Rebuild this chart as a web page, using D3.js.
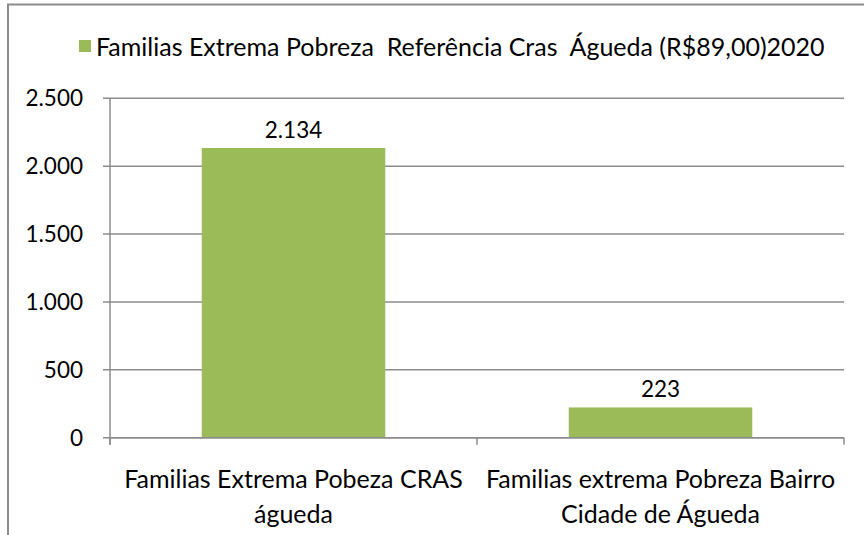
<!DOCTYPE html>
<html>
<head>
<meta charset="utf-8">
<style>
    body { margin: 0; background: #fff; }
    svg text { font-family: Lato, 'Open Sans', sans-serif; fill: #000; white-space: pre; }
</style>
</head>
<body>
<div id="chart"></div>
<script src="https://cdn.jsdelivr.net/npm/d3@7"></script>
<script>
    // data
    var categories = ['Familias Extrema Pobeza CRAS|águeda', 'Familias extrema Pobreza Bairro|Cidade de Águeda'];
    var values = [2134, 223];
    var series_name = 'Familias Extrema Pobreza  Referência Cras  Águeda (R$89,00)2020';
    var y_ticks = [0, 500, 1000, 1500, 2000, 2500];

    var width = 864,
        height = 535;

    var plot = {left: 110, right: 844, top: 98.3, bottom: 437.7};
    var bar_color = '#9bbb59',
        line_color = '#8c8c8c',
        num_size = 22.5,
        label_size = 25;

    var fmt = d3.formatLocale({decimal: ',', thousands: '.', grouping: [3], currency: ['R$', '']}).format(',d');

    var svg = d3.select('#chart').append('svg')
        .attr('width', width)
        .attr('height', height);

    // outer frame (top and left edges visible)
    svg.append('path')
        .attr('d', 'M7,4.5H' + width + 'M8,4V' + height)
        .attr('stroke', line_color)
        .attr('stroke-width', 2)
        .attr('fill', 'none');

    var y_scale = d3.scaleLinear()
        .domain([0, 2500])
        .range([plot.bottom, plot.top]);

    var x_scale = d3.scaleBand()
        .domain(categories)
        .range([plot.left, plot.right])
        .paddingInner(0.5)
        .paddingOuter(0.25);

    // gridlines + y ticks
    svg.append('g').selectAll('line.grid')
        .data(y_ticks)
        .enter().append('line')
        .attr('class', 'grid')
        .attr('x1', plot.left - 7)
        .attr('x2', plot.right)
        .attr('y1', function(d){ return y_scale(d); })
        .attr('y2', function(d){ return y_scale(d); })
        .attr('stroke', line_color)
        .attr('stroke-width', 1.5);

    svg.append('g').selectAll('text.ytick')
        .data(y_ticks)
        .enter().append('text')
        .attr('class', 'ytick')
        .attr('x', 83)
        .attr('y', function(d){ return y_scale(d); })
        .attr('dy', '0.35em')
        .attr('text-anchor', 'end')
        .attr('font-size', num_size)
        .text(function(d){ return fmt(d); });

    // y axis line
    svg.append('line')
        .attr('x1', plot.left).attr('x2', plot.left)
        .attr('y1', plot.top).attr('y2', plot.bottom + 7)
        .attr('stroke', line_color)
        .attr('stroke-width', 1.5);

    // x axis ticks between categories
    var step = x_scale.step();
    var x_ticks = [plot.left].concat(categories.map(function(c){ return x_scale(c) - x_scale.paddingOuter() * step + step; }));
    svg.append('g').selectAll('line.xtick')
        .data(x_ticks)
        .enter().append('line')
        .attr('class', 'xtick')
        .attr('x1', function(d){ return d; })
        .attr('x2', function(d){ return d; })
        .attr('y1', plot.bottom)
        .attr('y2', plot.bottom + 7)
        .attr('stroke', line_color)
        .attr('stroke-width', 1.5);

    // bars
    svg.append('g').selectAll('rect.bar')
        .data(values)
        .enter().append('rect')
        .attr('class', 'bar')
        .attr('x', function(d, i){ return x_scale(categories[i]); })
        .attr('width', x_scale.bandwidth())
        .attr('y', function(d){ return y_scale(d); })
        .attr('height', function(d){ return y_scale(0) - y_scale(d); })
        .attr('fill', bar_color);

    svg.append('line')
        .attr('x1', plot.left).attr('x2', plot.right)
        .attr('y1', plot.bottom).attr('y2', plot.bottom)
        .attr('stroke', line_color)
        .attr('stroke-width', 1.5);

    // value labels
    svg.append('g').selectAll('text.val')
        .data(values)
        .enter().append('text')
        .attr('class', 'val')
        .attr('x', function(d, i){ return x_scale(categories[i]) + x_scale.bandwidth() / 2; })
        .attr('y', function(d){ return y_scale(d) - 10; })
        .attr('text-anchor', 'middle')
        .attr('font-size', num_size)
        .text(function(d){ return fmt(d); });

    // category labels, two lines each
    var cat_labels = svg.append('g').selectAll('text.cat')
        .data(categories)
        .enter().append('text')
        .attr('class', 'cat')
        .attr('text-anchor', 'middle')
        .attr('font-size', label_size);

    cat_labels.selectAll('tspan')
        .data(function(d){ return d.split('|').map(function(t){ return {cat: d, text: t}; }); })
        .enter().append('tspan')
        .attr('x', function(d){ return x_scale(d.cat) + x_scale.bandwidth() / 2; })
        .attr('y', function(d, i){ return 488 + i * 35; })
        .text(function(d){ return d.text; });

    // legend
    svg.append('rect')
        .attr('x', 79).attr('y', 40)
        .attr('width', 12).attr('height', 12)
        .attr('fill', bar_color);

    svg.append('text')
        .attr('x', 96)
        .attr('y', 47)
        .attr('dy', '0.35em')
        .attr('font-size', label_size)
        .text(series_name);
</script>
</body>
</html>
